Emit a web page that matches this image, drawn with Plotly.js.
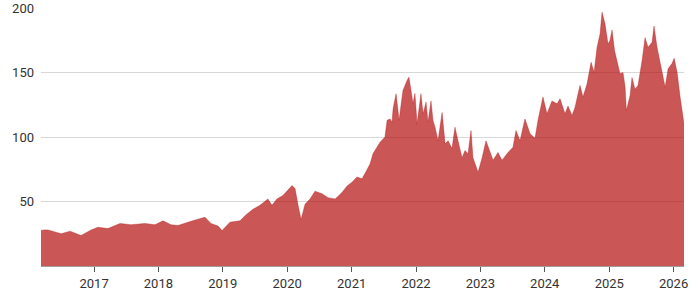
<!DOCTYPE html>
<html>
<head>
<meta charset="utf-8">
<script src="https://cdn.plot.ly/plotly-3.0.1.min.js"></script>
<style>html,body{margin:0;padding:0;background:#fff;}#chart{width:700px;height:300px;}</style>
</head>
<body>
<div id="chart"></div>
<script>
const dates = [
"2016-03-06","2016-03-23","2016-04-15","2016-05-19","2016-06-28","2016-08-18","2016-10-19","2016-12-15",
"2017-01-23","2017-03-21","2017-05-28","2017-07-29","2017-10-17","2017-12-13",
"2018-01-27","2018-03-13","2018-04-22","2018-07-05","2018-09-22","2018-10-26","2018-12-05","2018-12-28",
"2019-02-11","2019-04-09","2019-05-07","2019-06-21","2019-07-31","2019-09-14","2019-10-07","2019-11-04","2019-12-08",
"2020-01-29","2020-02-15","2020-03-03","2020-03-20","2020-04-12","2020-05-10","2020-06-07","2020-07-17","2020-08-20","2020-09-29","2020-10-16","2020-11-07","2020-12-06",
"2021-01-03","2021-01-31","2021-03-01","2021-03-29","2021-04-15","2021-05-02","2021-06-11","2021-07-09","2021-07-21","2021-08-07","2021-08-18","2021-08-24","2021-09-10","2021-09-27","2021-10-19","2021-11-11","2021-11-22","2021-12-15","2021-12-26",
"2022-01-07","2022-01-29","2022-02-10","2022-02-27","2022-03-10","2022-03-27","2022-04-07","2022-04-19","2022-05-06","2022-05-29","2022-06-15","2022-07-02","2022-07-24","2022-08-10","2022-08-27","2022-09-19","2022-10-06","2022-10-23","2022-11-09","2022-11-20","2022-12-19",
"2023-01-11","2023-02-02","2023-02-25","2023-03-14","2023-04-11","2023-05-04","2023-06-07","2023-07-05","2023-07-22","2023-08-14","2023-09-11","2023-10-10","2023-11-07","2023-11-24","2023-12-22",
"2024-01-14","2024-02-11","2024-03-11","2024-03-28","2024-04-25","2024-05-12","2024-06-04","2024-06-21","2024-07-19","2024-08-05","2024-08-28","2024-09-20","2024-10-07","2024-10-24","2024-11-10","2024-11-21","2024-12-08","2024-12-25",
"2025-01-05","2025-01-17","2025-01-31","2025-02-20","2025-03-03","2025-03-20","2025-04-01","2025-04-08","2025-04-29","2025-05-10","2025-05-27","2025-06-13","2025-07-06","2025-07-23","2025-08-09","2025-09-01","2025-09-12","2025-09-29","2025-10-22","2025-11-14","2025-12-01","2025-12-23",
"2026-01-04","2026-01-21","2026-02-07","2026-02-24","2026-03-01"
];
const prices = [
27.5,28,28,26.5,25,27,23.6,28,
30,29,33,32,33,32,
35,32,31.4,34.7,37.8,33,31,27.5,
34,35,39,44,47,52,47,52,54.6,
62.4,60,47,36,48,52,58,56,53,52,54,57,62,
65,69,67.6,74.6,79,87,96,100,113,114,111.5,122,133.5,113,136,143.8,146.4,126,133.7,
110,133.5,118,127,111.5,128,113,107.6,97,119,94.7,97,91,107.6,97,84,89.5,87,105,84,72.7,
84,97,88,82,88,82,88,92,105,97,114,102.5,99,113,131,
118,128,125.7,129.6,118,124,116.7,123,140,131,141,158,150,169.6,180,196.7,187.7,172,
174.8,183,167,155.4,149,150,138.6,120.5,132,146,137,140,159,177,169.6,173.5,186,169.6,154,138.6,153,157,
161,150,131,113,110
];
const yTicks = [50,100,150,200];
const xTickVals = ["2017-01-01","2018-01-01","2019-01-01","2020-01-01","2021-01-01","2022-01-01","2023-01-01","2024-01-01","2025-01-01","2026-01-01"];
const xTickText = ["2017","2018","2019","2020","2021","2022","2023","2024","2025","2026"];

const trace = {
  x: dates, y: prices, type: 'scatter', mode: 'lines',
  fill: 'tozeroy', fillcolor: 'rgba(180,14,14,0.7)',
  line: {color: 'rgba(180,14,14,0.7)', width: 0.5},
  hoverinfo: 'skip'
};
const layout = {
  width: 700, height: 300,
  margin: {l: 41, r: 16, t: 8, b: 34},
  paper_bgcolor: '#fff', plot_bgcolor: '#fff',
  showlegend: false,
  font: {family: 'Roboto, "Noto Sans", sans-serif', size: 13, color: '#333'},
  xaxis: {
    type: 'date', range: ['2016-03-06', '2026-03-01'],
    tickvals: xTickVals, ticktext: xTickText,
    showgrid: false, zeroline: false,
    showline: true, linecolor: '#9e9e9e', linewidth: 1,
    ticks: 'outside', ticklen: 5, tickcolor: '#555', tickwidth: 1,
    tickfont: {size: 13, color: '#333'}
  },
  yaxis: {
    range: [0, 200], tickvals: yTicks,
    showgrid: true, gridcolor: '#d8d8d8', gridwidth: 1,
    zeroline: false, showline: false, ticks: '',
    ticklabelstandoff: 6,
    tickfont: {size: 13, color: '#333'}
  }
};
Plotly.newPlot('chart', [trace], layout, {staticPlot: true, displayModeBar: false});
</script>
</body>
</html>
